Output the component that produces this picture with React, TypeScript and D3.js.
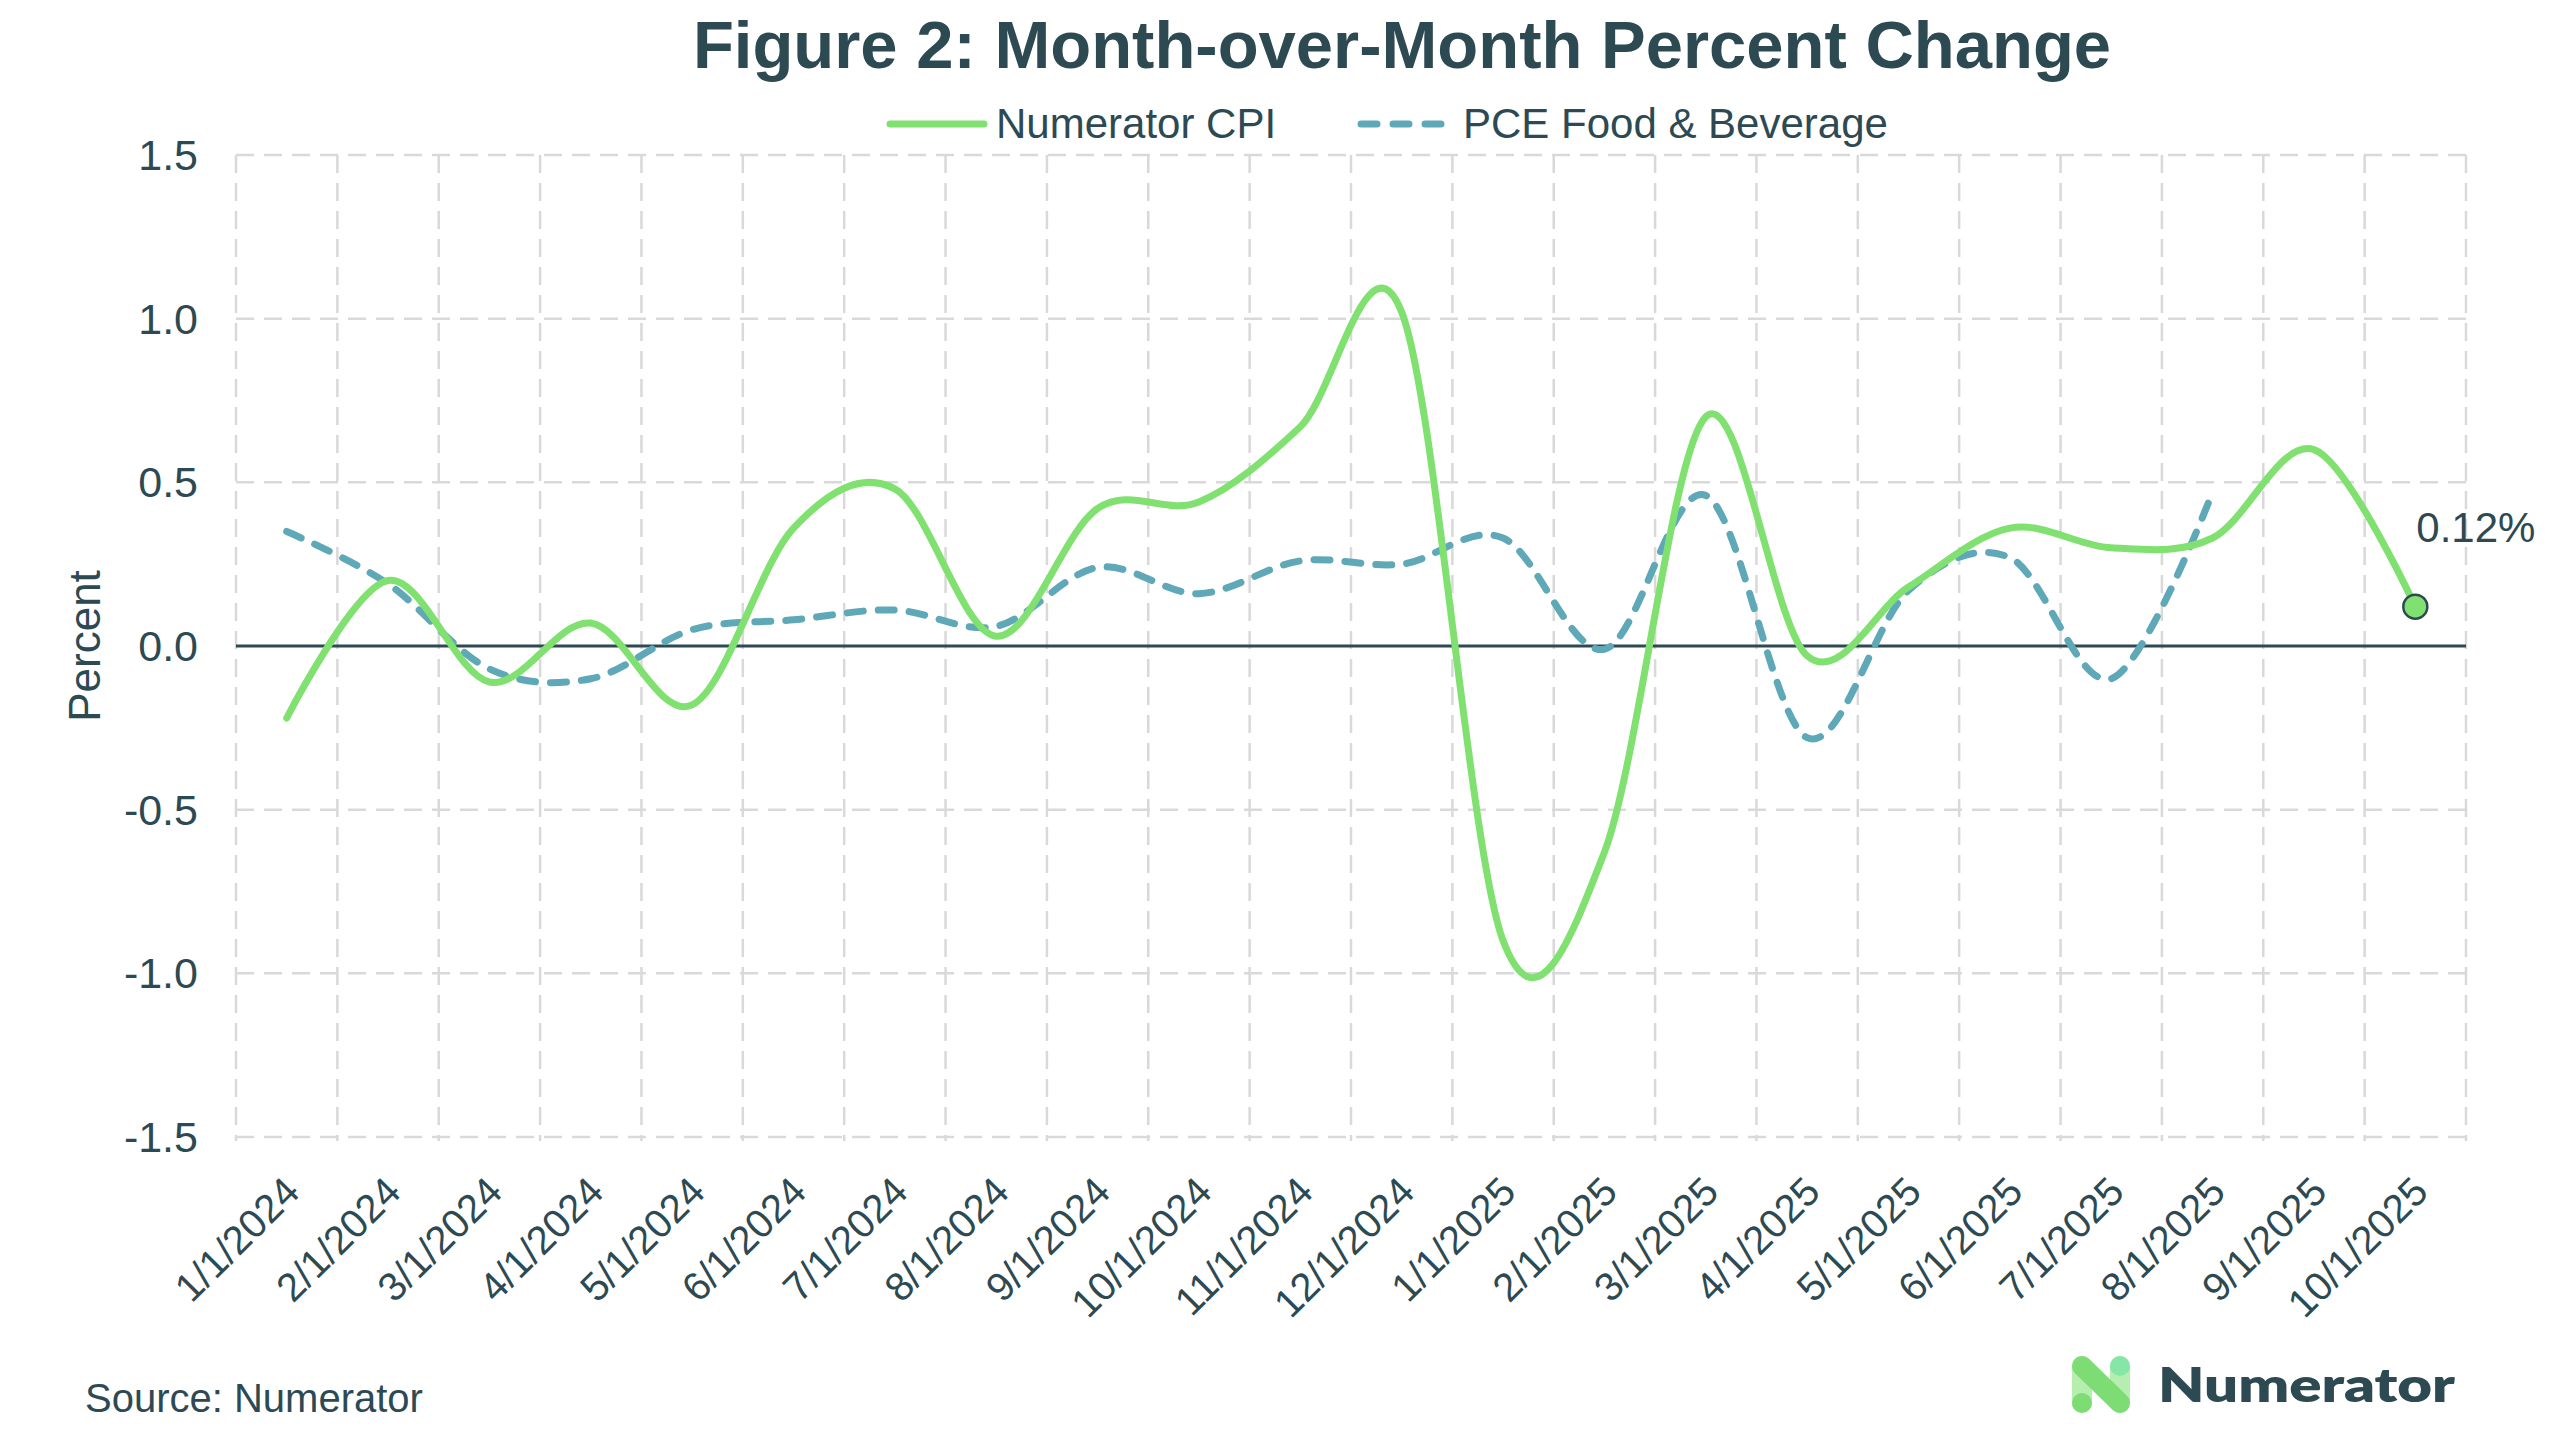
import React from 'react';
import * as d3 from 'd3';

const months = [
  '1/1/2024', '2/1/2024', '3/1/2024', '4/1/2024', '5/1/2024', '6/1/2024',
  '7/1/2024', '8/1/2024', '9/1/2024', '10/1/2024', '11/1/2024', '12/1/2024',
  '1/1/2025', '2/1/2025', '3/1/2025', '4/1/2025', '5/1/2025', '6/1/2025',
  '7/1/2025', '8/1/2025', '9/1/2025', '10/1/2025',
];
const numeratorCpi = [
  -0.22, 0.2, -0.11, 0.07, -0.18, 0.36, 0.48, 0.03, 0.42, 0.44, 0.67, 1.02,
  -0.9, -0.63, 0.7, -0.03, 0.18, 0.36, 0.3, 0.33, 0.6, 0.12,
];
const pceFoodBev = [
  0.35, 0.19, -0.07, -0.1, 0.05, 0.08, 0.11, 0.06, 0.24, 0.16, 0.26, 0.25,
  0.33, -0.01, 0.46, -0.28, 0.17, 0.27, -0.1, 0.47,
];
const yTicks = [-1.5, -1.0, -0.5, 0.0, 0.5, 1.0, 1.5];

const W = 2560;
const H = 1446;
const ink = '#2d4a53';
const green = '#80e070';
const teal = '#5fa8b8';
const font = '"Liberation Sans", Arial, Helvetica, sans-serif';

export default function App() {
  const x = d3.scaleBand<string>().domain(months).range([236, 2466]).padding(0);
  const y = d3.scaleLinear().domain([-1.5, 1.5]).range([1137, 155]);
  const cx = (m: string) => (x(m) as number) + x.bandwidth() / 2;
  const fmt = (t: number) => t.toFixed(1); // plain hyphen, like the source

  const line = d3.line<number>()
    .x((_, i) => cx(months[i]))
    .y(d => y(d))
    .curve(d3.curveCatmullRom.alpha(0));

  const boundaries = months.map(m => x(m) as number).concat([x.range()[1]]);
  const last = numeratorCpi.length - 1;
  const lastX = cx(months[last]);
  const lastY = y(numeratorCpi[last]);

  return (
    <svg width={W} height={H} viewBox={`0 0 ${W} ${H}`}
      style={{position: 'absolute', left: 0, top: 0, background: '#fff'}}
      fontFamily={font}>
      <rect width={W} height={H} fill="#fff"/>

      <text x={1402} y={68} textAnchor="middle" fontSize={67} fontWeight="bold" fill={ink}>
        Figure 2: Month-over-Month Percent Change
      </text>

      {/* legend */}
      <line x1={890} x2={984} y1={124} y2={124} stroke={green} strokeWidth={7} strokeLinecap="round"/>
      <text x={996} y={138} fontSize={42} fill={ink}>Numerator CPI</text>
      <line x1={1361} x2={1446} y1={124} y2={124} stroke={teal} strokeWidth={7}
        strokeLinecap="round" strokeDasharray="16 16"/>
      <text x={1463} y={138} fontSize={42} fill={ink}>PCE Food &amp; Beverage</text>

      {/* grid */}
      <g stroke="#d9d9d9" strokeWidth={2.5} strokeDasharray="18 10">
        {boundaries.map((b, i) => (
          <line key={'v' + i} x1={b} x2={b} y1={y(1.5)} y2={y(-1.5) + 4}/>
        ))}
        {yTicks.filter(t => t !== 0).map(t => (
          <line key={'h' + t} x1={x.range()[0]} x2={x.range()[1]} y1={y(t)} y2={y(t)}/>
        ))}
      </g>
      <line x1={x.range()[0]} x2={x.range()[1]} y1={y(0)} y2={y(0)} stroke={ink} strokeWidth={3}/>

      {/* y axis */}
      {yTicks.map(t => (
        <text key={t} x={198} y={y(t)} dy="0.35em" textAnchor="end" fontSize={43} fill={ink}>
          {fmt(t)}
        </text>
      ))}
      <text transform={`translate(100,${y(0)}) rotate(-90)`} textAnchor="middle" fontSize={44} fill={ink}>
        Percent
      </text>

      {/* x axis */}
      {months.map(m => (
        <text key={m} transform={`translate(${cx(m) + 15},${y(-1.5) + 57}) rotate(-45)`}
          textAnchor="end" fontSize={40} fill={ink}>
          {m}
        </text>
      ))}

      {/* series */}
      <path d={line(pceFoodBev) || ''} fill="none" stroke={teal} strokeWidth={7}
        strokeLinecap="round" strokeDasharray="16 15"/>
      <path d={line(numeratorCpi) || ''} fill="none" stroke={green} strokeWidth={7}
        strokeLinecap="round"/>
      <circle cx={lastX} cy={lastY} r={12} fill={green} stroke={ink} strokeWidth={2.5}/>
      <text x={lastX + 1} y={lastY - 65} fontSize={42} fill={ink}>
        {numeratorCpi[last].toFixed(2)}%
      </text>

      <text x={85} y={1412} fontSize={40} fill={ink}>Source: Numerator</text>

      {/* logo */}
      <g>
        <rect x={2072} y={1356} width={20} height={57} rx={10} fill="#b6eeb0"/>
        <rect x={2110} y={1356} width={20} height={57} rx={10} fill="#b6eeb0"/>
        <line x1={2082} y1={1366} x2={2120} y2={1403} stroke="#7ddc74" strokeWidth={20} strokeLinecap="round"/>
        <circle cx={2082} cy={1403} r={10} fill="#7ddc74"/>
        <circle cx={2120} cy={1366} r={10} fill="#86e6a8"/>
        <text x={2158} y={1402} fontSize={48} fontFamily="Lato, sans-serif" fontWeight={800}
          fill={ink} textLength={297} lengthAdjust="spacingAndGlyphs">Numerator</text>
      </g>
    </svg>
  );
}
